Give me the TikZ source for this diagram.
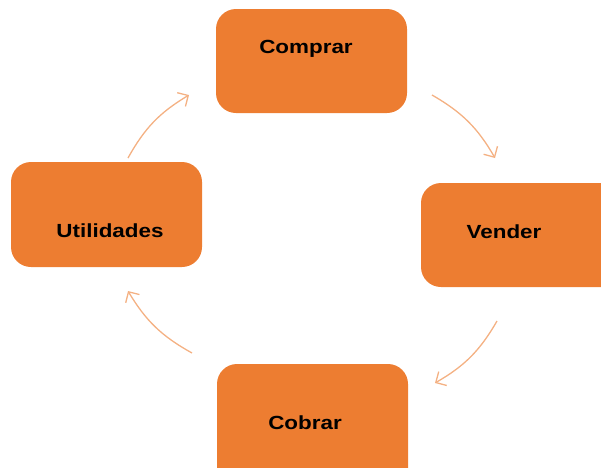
\documentclass[tikz,border=0pt]{standalone}
\usepackage{fontspec}
\setmainfont{Liberation Sans}
\usetikzlibrary{arrows.meta}
\definecolor{boxorange}{HTML}{ED7D31}
\definecolor{arrowpeach}{HTML}{F4B183}
\begin{document}
\begin{tikzpicture}[x=1pt,y=-1pt,
  box/.style={fill=boxorange, draw=none, rounded corners=20pt, inner sep=0pt},
  lbl/.style={font=\fontsize{19}{21}\selectfont\bfseries, text=black, inner sep=0pt},
  arr/.style={draw=arrowpeach, line width=1.3pt, -{Straight Barb[length=8pt,width=16pt,line width=1.3pt]}}]
\useasboundingbox (0,0) rectangle (601,467);
\clip (0,0) rectangle (601,467);
% boxes
\path[box] (216,9) rectangle (407,113); \node (comprarbox) at (311.5,61) {};
\path[box] (421,183) rectangle (625,287); \node (venderbox) at (523,235) {};
\path[box] (217,364) rectangle (408,490); \node (cobrarbox) at (312.5,427) {};
\path[box] (11,162) rectangle (202,267); \node (utilbox) at (106.5,214.5) {};
% labels
\node[lbl] (comprar) at (306,49) {\scalebox{1.18}[1]{Comprar}};
\node[lbl] (vender) at (504,232) {\scalebox{1.18}[1]{Vender}};
\node[lbl] (cobrar) at (305,423) {\scalebox{1.18}[1]{Cobrar}};
\node[lbl] (util) at (110,231) {\scalebox{1.18}[1]{Utilidades}};
% arrow end points
\coordinate (a1s) at (432,95);  \coordinate (a1e) at (495,158);
\coordinate (a2s) at (497,321); \coordinate (a2e) at (435,383);
\coordinate (a3s) at (192,353); \coordinate (a3e) at (128,291);
\coordinate (a4s) at (128,158); \coordinate (a4e) at (189,95);
\draw[arr] (a1s) to[bend left=15] (a1e);
\draw[arr] (a2s) to[bend left=15] (a2e);
\draw[arr] (a3s) to[bend left=15] (a3e);
\draw[arr] (a4s) to[bend left=15] (a4e);
\end{tikzpicture}
\end{document}
